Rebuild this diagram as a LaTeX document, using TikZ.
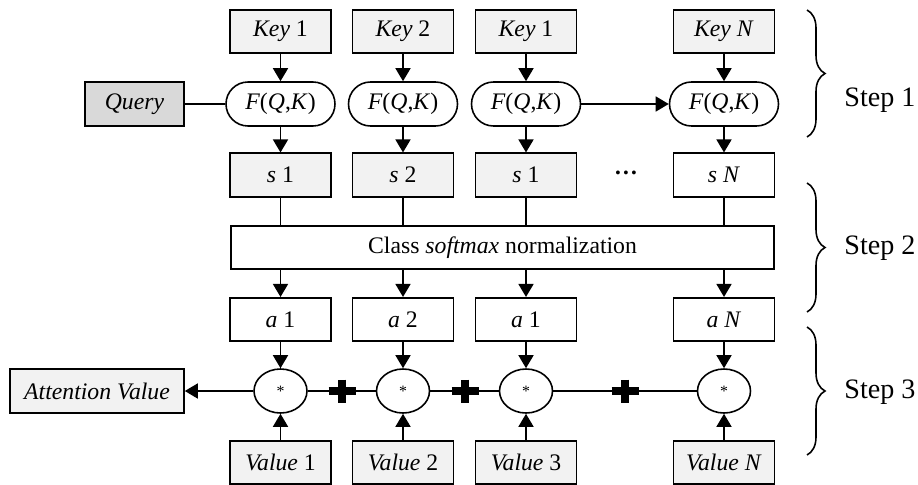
\documentclass[tikz,border=0pt]{standalone}
\usepackage{fontspec}
\setmainfont{Liberation Serif}
\usetikzlibrary{arrows.meta,shapes.geometric,decorations.pathreplacing}

\begin{document}
\begin{tikzpicture}[
    font=\fontsize{13.5}{16}\selectfont,
    ln/.style={line width=0.9pt},
    arr/.style={ln, -{Triangle[length=0.26cm,width=0.3cm]}},
    box/.style={draw, ln, inner sep=0pt, minimum width=2.02cm, minimum height=0.87cm},
    fbox/.style={draw, ln, inner sep=0pt, rounded corners=0.44cm, minimum width=2.18cm, minimum height=0.88cm},
    mult/.style={draw, ln, ellipse, inner sep=0pt, minimum width=1.06cm, minimum height=0.88cm},
    plus/.style={line width=4pt},
    stepbrace/.style={ln, decorate, decoration={brace, amplitude=0.36cm}},
    steplabel/.style={font=\fontsize{16}{19}\selectfont}
]
    \useasboundingbox (0,0) rectangle (18.36,-9.70);

    % Columns: keys, scores, weights, products, values
    \foreach \i/\x/\k/\v/\c in {1/5.61/1/1/gray!10, 2/8.06/2/2/gray!10, 3/10.52/1/3/gray!10, 4/14.48/\textit{N}/\textit{N}/white} {
        \node[box, fill=gray!10] (key\i) at (\x,-0.63) {\textit{Key} \k};
        \node[fbox] (f\i) at (\x,-2.08) {\textit{F}(\textit{Q},\textit{K})};
        \node[box, fill=\c] (s\i) at (\x,-3.50) {\textit{s} \k};
        \node[box] (a\i) at (\x,-6.39) {\textit{a} \k};
        \node[mult] (m\i) at (\x,-7.82) {\small *};
        \node[box, fill=gray!10] (v\i) at (\x,-9.25) {\textit{Value} \v};
    }
    \node (dots) at (12.52,-3.46) {\textbf{\ldots}};

    % Query and result
    \node[box, fill=gray!30, minimum width=1.98cm, minimum height=0.88cm] (query) at (2.69,-2.08) {\textit{Query}};
    \node[box, fill=gray!10, minimum width=3.48cm, minimum height=0.88cm] (att) at (1.94,-7.82) {\textit{Attention Value}};

    % Normalization
    \node[box, minimum width=10.86cm] (soft) at (10.05,-4.95) {Class \textit{softmax} normalization};

    % Connectors
    \foreach \i in {1,...,4} {
        \draw[arr] (key\i) -- (f\i);
        \draw[arr] (f\i) -- (s\i);
        \draw[ln] (s\i) -- (s\i |- soft.north);
        \draw[arr] (soft.south -| a\i) -- (a\i);
        \draw[arr] (a\i) -- (m\i);
        \draw[arr] (v\i) -- (m\i);
    }
    \draw[ln] (query) -- (f1);
    \draw[arr] (f3) -- (f4);
    \draw[arr] (m1) -- (att);
    \draw[ln] (m1) -- (m2);
    \draw[ln] (m2) -- (m3);
    \draw[ln] (m3) -- (m4);

    % Sum signs
    \foreach \p in {6.84, 9.30, 12.50}
        \draw[plus] (\p-0.27,-7.82) -- (\p+0.27,-7.82) (\p,-7.59) -- (\p,-8.05);

    % Steps
    \draw[stepbrace] (16.14,-0.20) -- (16.14,-2.74);
    \draw[stepbrace] (16.14,-3.66) -- (16.14,-6.24);
    \draw[stepbrace] (16.14,-6.54) -- (16.14,-9.10);
    \node[steplabel] (step1) at (17.6,-2.00) {Step 1};
    \node[steplabel] (step2) at (17.6,-4.96) {Step 2};
    \node[steplabel] (step3) at (17.6,-7.84) {Step 3};
\end{tikzpicture}
\end{document}
